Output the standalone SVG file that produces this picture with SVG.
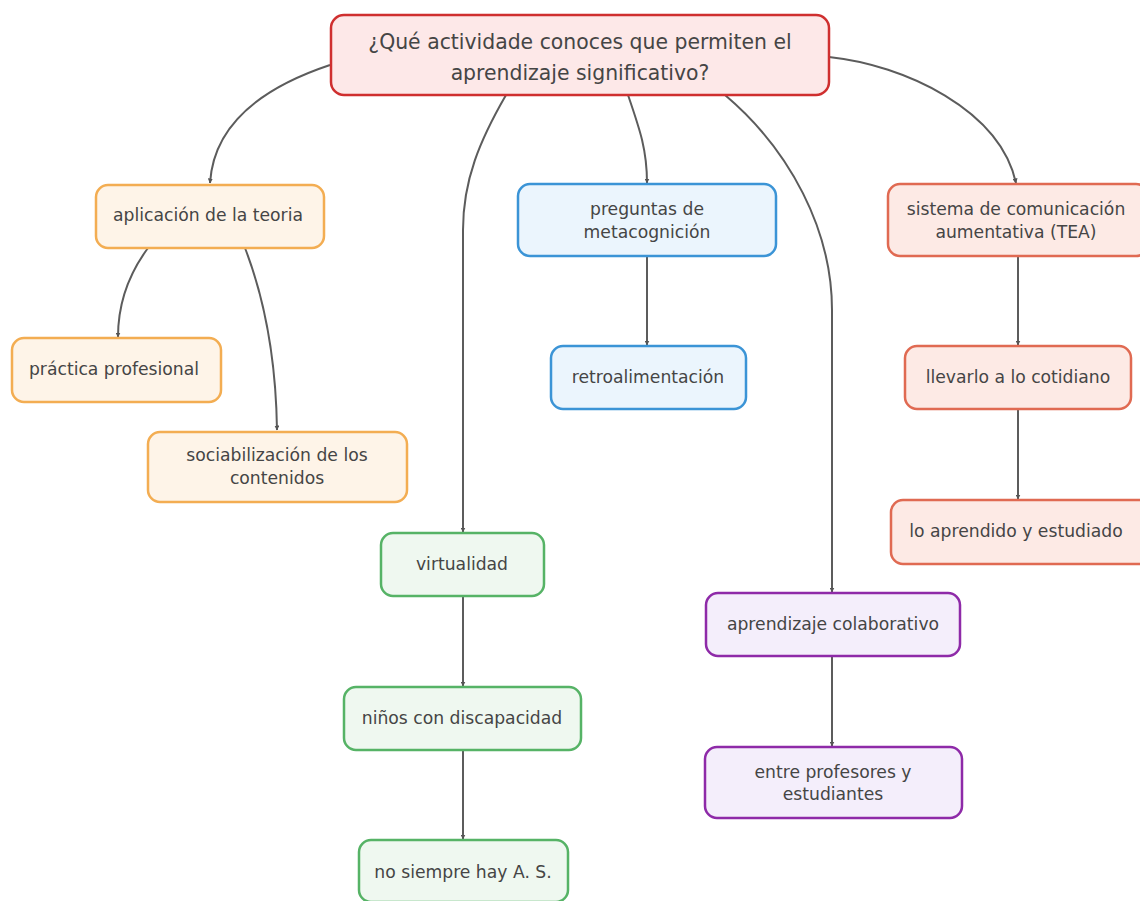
<svg xmlns="http://www.w3.org/2000/svg" width="1140" height="901" viewBox="0 0 1140 901">
<defs>
<marker id="arr" viewBox="0 0 10 10" refX="9" refY="5" markerWidth="5" markerHeight="5" orient="auto" markerUnits="userSpaceOnUse">
<path d="M0,0 L10,5 L0,10 z" fill="#555"/>
</marker>
<style>
.n rect{stroke-width:2.5}
.t{font-family:"DejaVu Sans","Open Sans",sans-serif;font-size:17.2px;fill:#454545;text-anchor:middle}
.root rect{fill:#fde8e8;stroke:#cf2f2f}
.or rect{fill:#fef4e8;stroke:#f3ad52}
.bl rect{fill:#ebf5fd;stroke:#3b94d6}
.rd rect{fill:#fdeae5;stroke:#e06a52}
.gr rect{fill:#eff8f0;stroke:#56b366}
.pu rect{fill:#f4eefb;stroke:#8e2aa8}
.c path{fill:none;stroke:#5c5c5c;stroke-width:2;marker-end:url(#arr)}
</style>
</defs>
<rect width="1140" height="901" fill="#ffffff"/>
<g id="connectors" class="c">
<path d="M330,65 C270,85 214,120 210,183"/>
<path d="M506,95 C480,140 463,180 463,230 L463,532"/>
<path d="M628,95 C640,130 647,150 647,183"/>
<path d="M725,95 C790,150 832,230 832,310 L832,592"/>
<path d="M829,57 C905,65 1000,110 1016,183"/>
<path d="M148,248 C128,275 118,305 118,337"/>
<path d="M245,248 C265,300 276,360 277,430"/>
<path d="M647,257 L647,345"/>
<path d="M1018,257 L1018,345"/>
<path d="M1018,410 L1018,499"/>
<path d="M463,597 L463,686"/>
<path d="M463,751 L463,839"/>
<path d="M832,657 L832,746"/>
</g>
<g id="root" class="n root">
<rect x="331" y="15" width="498" height="80" rx="13"/>
<text class="t" x="580" y="49" style="font-size:20.4px">¿Qué actividade conoces que permiten el</text>
<text class="t" x="580" y="80" style="font-size:20.4px">aprendizaje significativo?</text>
</g>
<g id="aplicacion" class="n or">
<rect x="96" y="185" width="228" height="63" rx="12"/>
<text class="t" x="208" y="221">aplicación de la teoria</text>
</g>
<g id="practica" class="n or">
<rect x="12" y="338" width="209" height="64" rx="12"/>
<text class="t" x="114" y="375">práctica profesional</text>
</g>
<g id="sociabilizacion" class="n or">
<rect x="148" y="432" width="259" height="70" rx="12"/>
<text class="t" x="277" y="461">sociabilización de los</text>
<text class="t" x="277" y="484">contenidos</text>
</g>
<g id="preguntas" class="n bl">
<rect x="518" y="184" width="258" height="72" rx="12"/>
<text class="t" x="647" y="215">preguntas de</text>
<text class="t" x="647" y="238">metacognición</text>
</g>
<g id="retro" class="n bl">
<rect x="551" y="346" width="195" height="63" rx="12"/>
<text class="t" x="648" y="383">retroalimentación</text>
</g>
<g id="sistema" class="n rd">
<rect x="888" y="184" width="260" height="72" rx="12"/>
<text class="t" x="1016" y="215">sistema de comunicación</text>
<text class="t" x="1016" y="238">aumentativa (TEA)</text>
</g>
<g id="llevarlo" class="n rd">
<rect x="905" y="346" width="226" height="63" rx="12"/>
<text class="t" x="1018" y="383">llevarlo a lo cotidiano</text>
</g>
<g id="aprendido" class="n rd">
<rect x="891" y="500" width="260" height="64" rx="12"/>
<text class="t" x="1016" y="537">lo aprendido y estudiado</text>
</g>
<g id="virtualidad" class="n gr">
<rect x="381" y="533" width="163" height="63" rx="12"/>
<text class="t" x="462" y="570">virtualidad</text>
</g>
<g id="ninos" class="n gr">
<rect x="344" y="687" width="237" height="63" rx="12"/>
<text class="t" x="462" y="724">niños con discapacidad</text>
</g>
<g id="nosiempre" class="n gr">
<rect x="359" y="840" width="209" height="62" rx="12"/>
<text class="t" x="463" y="878">no siempre hay A. S.</text>
</g>
<g id="colaborativo" class="n pu">
<rect x="706" y="593" width="254" height="63" rx="12"/>
<text class="t" x="833" y="630">aprendizaje colaborativo</text>
</g>
<g id="entre" class="n pu">
<rect x="705" y="747" width="257" height="71" rx="12"/>
<text class="t" x="833" y="778">entre profesores y</text>
<text class="t" x="833" y="800">estudiantes</text>
</g>
</svg>
